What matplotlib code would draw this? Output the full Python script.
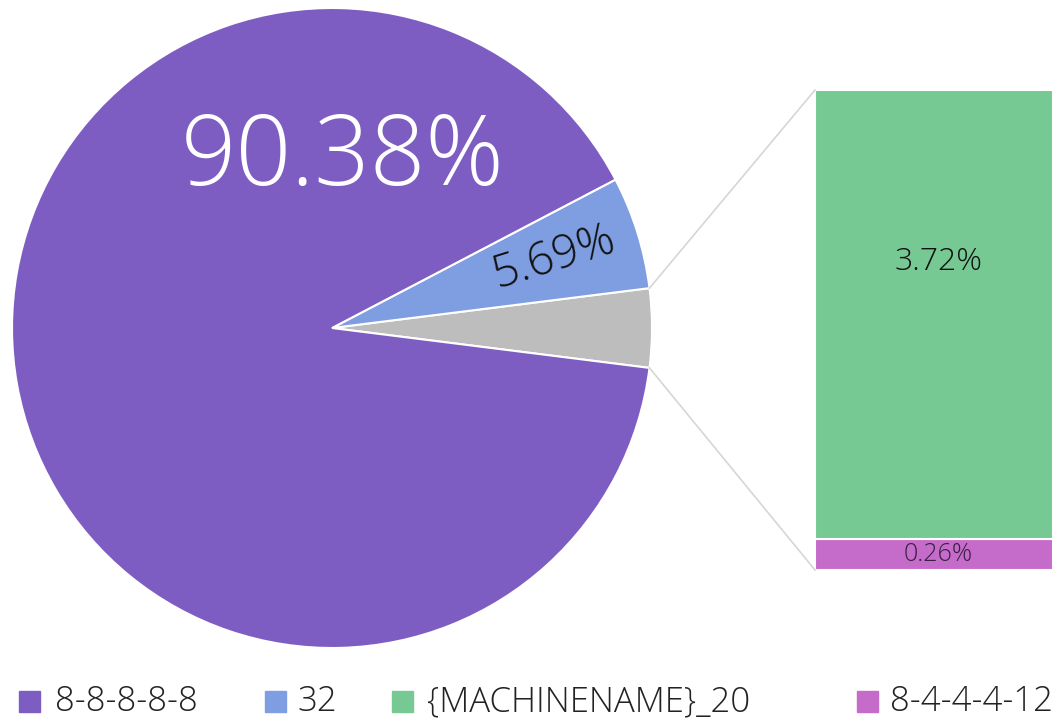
import numpy as np
import matplotlib
matplotlib.use("Agg")
import matplotlib.pyplot as plt
from matplotlib.patches import Rectangle

plt.rcParams['font.family'] = ['Open Sans', 'DejaVu Sans']

# ---- data ----
labels = ["8-8-8-8-8", "32", "{MACHINENAME}_20", "8-4-4-4-12"]
values = [90.38, 5.69, 3.72, 0.26]
colors = ["#7E5DC3", "#7F9DE1", "#77C993", "#C56BC9"]
other_color = "#BDBDBD"
pct_labels = ["90.38%", "5.69%", "3.72%", "0.26%"]

W, H = 1059, 727
fig = plt.figure(figsize=(W / 100, H / 100), dpi=100)
ax = fig.add_axes([0, 0, 1, 1])

# ---- pie ----
cx, cy, R = 332, H - 328, 320
other = values[2] + values[3]
pie_vals = [other, values[1], values[0]]
pie_cols = [other_color, colors[1], colors[0]]
start = -other / 100 * 360 / 2
wedges, _ = ax.pie(pie_vals, colors=pie_cols, startangle=start, counterclock=True,
                   center=(cx, cy), radius=R, frame=True,
                   wedgeprops=dict(edgecolor='white', linewidth=1.5))
ax.set_xlim(0, W)
ax.set_ylim(0, H)
ax.set_aspect('equal')
ax.axis('off')

# labels on pie
ax.text(343, H - 160, pct_labels[0], color='white', fontsize=70, fontweight='light',
        ha='center', va='center')
blue_mid = np.deg2rad(start + 360 * other / 100 + 360 * values[1] / 100 / 2)
ax.text(cx + 0.71 * R * np.cos(blue_mid) + 6, cy + 0.71 * R * np.sin(blue_mid) + 2,
        pct_labels[1], color='#111111', fontsize=33, fontweight='light',
        ha='center', va='center', rotation=np.rad2deg(blue_mid), rotation_mode='anchor')

# ---- bar ----
bx0, bw = 815, 238
by0, bh = H - 570, 480
scale = bh / other
ax.bar(bx0, values[3] * scale, width=bw, bottom=by0, align='edge',
       color=colors[3], edgecolor='white', linewidth=1.5)
ax.bar(bx0, values[2] * scale, width=bw, bottom=by0 + values[3] * scale, align='edge',
       color=colors[2], edgecolor='white', linewidth=1.5)
ax.text(bx0 + bw / 2 + 4, H - 262, pct_labels[2], color='#111111', fontsize=23,
        fontweight='light', ha='center', va='center')
ax.text(bx0 + bw / 2 + 4, by0 + values[3] * scale / 2, pct_labels[3], color='#3a1f44',
        fontsize=18, fontweight='light', ha='center', va='center')

# connecting lines
a1 = np.deg2rad(start + 360 * other / 100)
a0 = np.deg2rad(start)
ax.plot([cx + R * np.cos(a1), bx0], [cy + R * np.sin(a1), by0 + bh], color='#D6D6D6', lw=1.2)
ax.plot([cx + R * np.cos(a0), bx0], [cy + R * np.sin(a0), by0], color='#D6D6D6', lw=1.2)

# ---- legend ----
leg_sq_x = [19, 265, 392, 857]
leg_txt_x = [55, 297, 427, 890]
ly = H - 702
for c, lab, sx, tx in zip(colors, labels, leg_sq_x, leg_txt_x):
    ax.add_patch(Rectangle((sx, ly - 10), 21, 21, color=c))
    ax.text(tx, ly, lab, fontsize=25, fontweight='light', color='#222222',
            ha='left', va='center')

fig.savefig('out.png', dpi=100, facecolor='white')
